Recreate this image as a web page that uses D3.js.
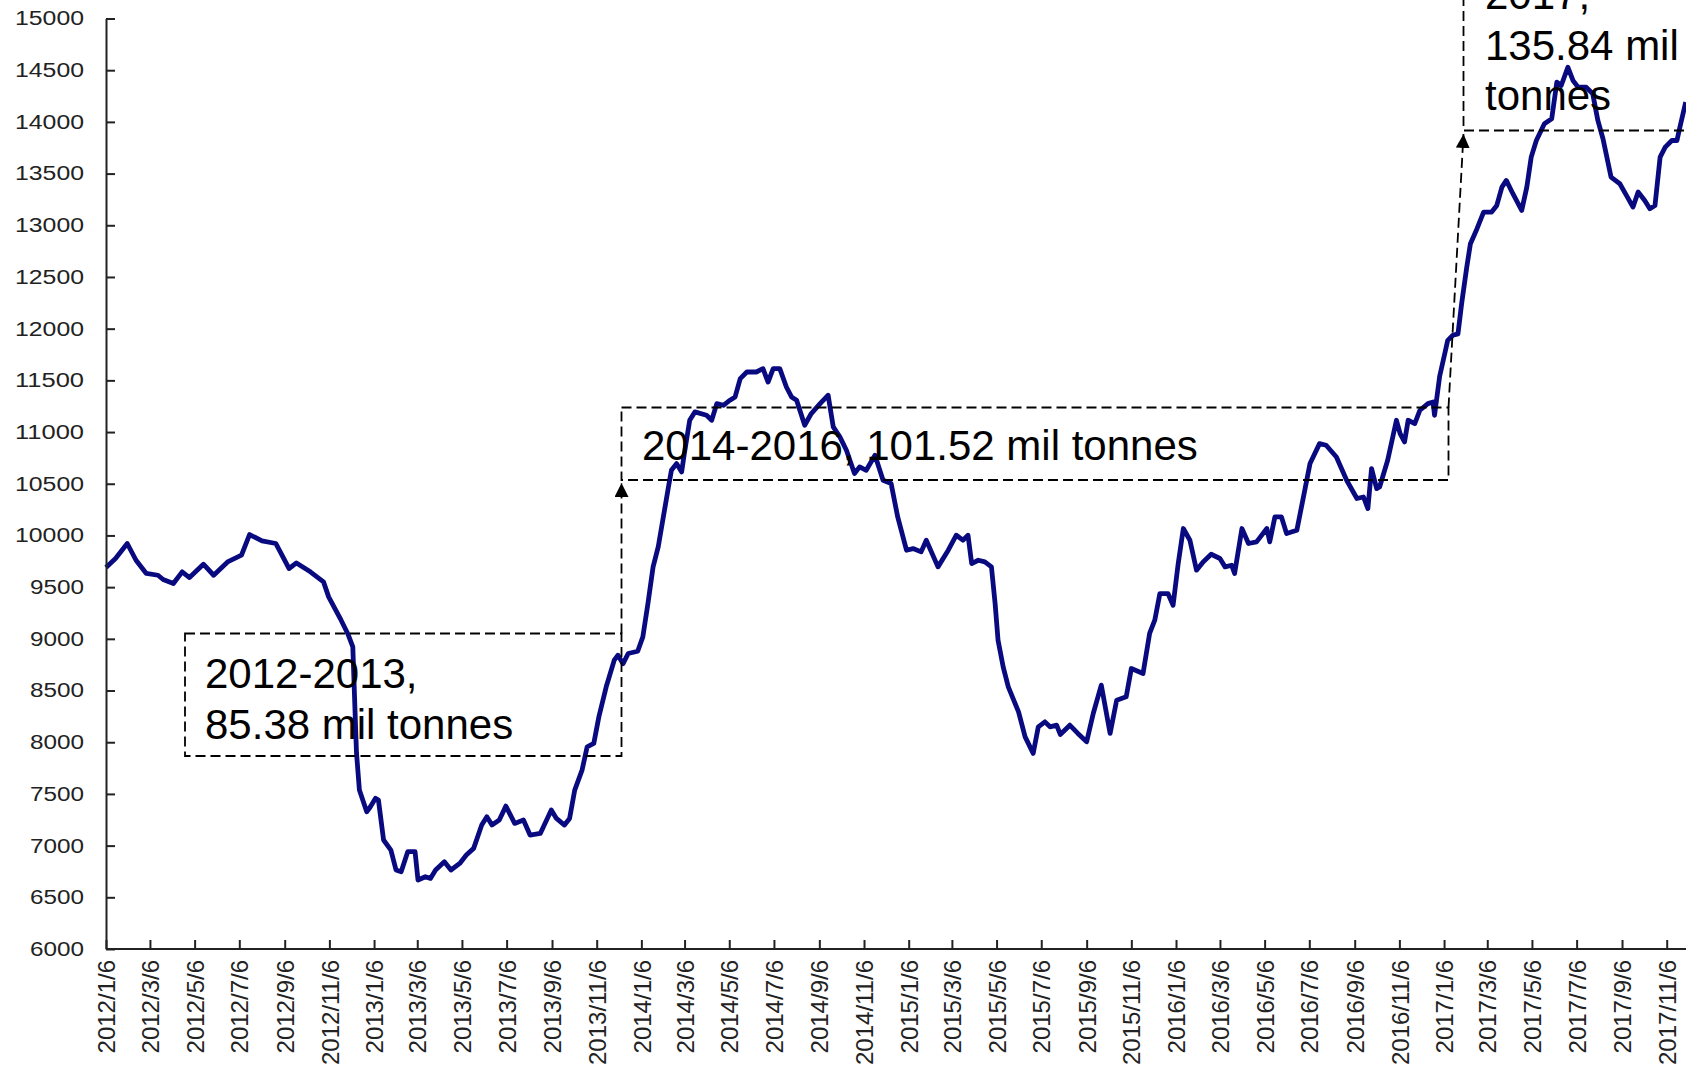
<!DOCTYPE html>
<html><head><meta charset="utf-8">
<script src="https://cdn.jsdelivr.net/npm/d3@7"></script>
<style>body{margin:0;background:#fff;} svg{display:block;}</style>
</head><body><svg id="c" width="1686" height="1065"></svg>
<script>
const dates = [
"2012-01-06","2012-01-19","2012-02-04","2012-02-16","2012-03-01","2012-03-17","2012-03-24","2012-04-07","2012-04-19","2012-04-29",
"2012-05-18","2012-06-01","2012-06-20","2012-07-09","2012-07-20","2012-08-06","2012-08-25","2012-09-12","2012-09-22","2012-10-11",
"2012-10-29","2012-11-05","2012-11-22","2012-12-01","2012-12-08","2012-12-13","2012-12-17","2012-12-27","2013-01-01","2013-01-08",
"2013-01-12","2013-01-19","2013-01-29","2013-02-05","2013-02-12","2013-02-21","2013-03-03","2013-03-07","2013-03-17","2013-03-24",
"2013-03-31","2013-04-12","2013-04-21","2013-05-03","2013-05-12","2013-05-22","2013-06-02","2013-06-09","2013-06-16","2013-06-26",
"2013-07-05","2013-07-17","2013-07-29","2013-08-07","2013-08-21","2013-09-05","2013-09-12","2013-09-23","2013-09-30","2013-10-07",
"2013-10-17","2013-10-24","2013-11-02","2013-11-09","2013-11-19","2013-11-30","2013-12-05","2013-12-12","2013-12-19","2014-01-01",
"2014-01-08","2014-01-15","2014-01-22","2014-01-29","2014-02-05","2014-02-12","2014-02-16","2014-02-23","2014-03-02","2014-03-06",
"2014-03-13","2014-03-20","2014-04-05","2014-04-12","2014-04-19","2014-04-28","2014-05-07","2014-05-14","2014-05-21","2014-05-30",
"2014-06-12","2014-06-21","2014-06-28","2014-07-05","2014-07-14","2014-07-23","2014-07-30","2014-08-06","2014-08-17","2014-08-26",
"2014-09-07","2014-09-18","2014-09-25","2014-10-04","2014-10-13","2014-10-24","2014-10-31","2014-11-09","2014-11-21","2014-12-02",
"2014-12-13","2014-12-22","2015-01-03","2015-01-12","2015-01-23","2015-01-30","2015-02-15","2015-03-01","2015-03-12","2015-03-21",
"2015-03-28","2015-04-02","2015-04-11","2015-04-20","2015-04-29","2015-05-04","2015-05-08","2015-05-15","2015-05-22","2015-06-05",
"2015-06-14","2015-06-25","2015-07-02","2015-07-11","2015-07-18","2015-07-27","2015-08-01","2015-08-14","2015-08-25","2015-09-06",
"2015-09-15","2015-09-26","2015-10-08","2015-10-17","2015-10-30","2015-11-06","2015-11-22","2015-12-01","2015-12-08","2015-12-15",
"2015-12-26","2016-01-02","2016-01-09","2016-01-16","2016-01-25","2016-02-03","2016-02-12","2016-02-23","2016-03-06","2016-03-13",
"2016-03-22","2016-03-26","2016-04-05","2016-04-14","2016-04-25","2016-05-09","2016-05-13","2016-05-20","2016-05-29","2016-06-05",
"2016-06-19","2016-06-28","2016-07-07","2016-07-20","2016-07-29","2016-08-12","2016-08-26","2016-09-09","2016-09-18","2016-09-24",
"2016-09-29","2016-10-06","2016-10-10","2016-10-21","2016-11-02","2016-11-07","2016-11-13","2016-11-18","2016-11-27","2016-12-04",
"2016-12-15","2016-12-22","2016-12-24","2016-12-31","2017-01-07","2017-01-11","2017-01-18","2017-01-25","2017-01-30","2017-02-06",
"2017-02-11","2017-02-20","2017-03-01","2017-03-12","2017-03-19","2017-03-26","2017-04-01","2017-04-10","2017-04-22","2017-04-29",
"2017-05-05","2017-05-12","2017-05-23","2017-06-02","2017-06-09","2017-06-15","2017-06-24","2017-07-01","2017-07-08","2017-07-19",
"2017-07-28","2017-08-04","2017-08-11","2017-08-22","2017-09-03","2017-09-12","2017-09-21","2017-09-28","2017-10-07","2017-10-14",
"2017-10-21","2017-10-28","2017-11-04","2017-11-13","2017-11-20","2017-11-24","2017-12-02"
];
const values = [
9690,9777,9922,9760,9632,9615,9574,9535,9648,9593,
9722,9615,9744,9809,10009,9947,9922,9680,9734,9648,
9551,9406,9180,9052,8922,7900,7537,7327,7376,7457,
7440,7054,6957,6764,6747,6941,6941,6667,6699,6683,
6764,6844,6764,6828,6909,6973,7199,7279,7199,7247,
7382,7215,7247,7102,7118,7344,7263,7199,7263,7537,
7730,7956,7988,8246,8536,8794,8842,8760,8858,8880,
9019,9342,9696,9889,10179,10469,10630,10695,10614,10807,
11114,11195,11162,11114,11275,11259,11308,11340,11517,11581,
11581,11613,11484,11613,11613,11436,11340,11308,11066,11179,
11275,11356,11050,10953,10824,10599,10663,10630,10775,10534,
10502,10179,9857,9873,9841,9954,9696,9857,10002,9954,
10002,9728,9760,9744,9696,9342,8987,8729,8536,8294,
8052,7892,8149,8197,8149,8165,8075,8165,8085,8004,
8278,8552,8085,8407,8439,8713,8665,9052,9180,9438,
9438,9325,9728,10067,9954,9664,9744,9818,9777,9696,
9712,9632,10067,9922,9938,10067,9938,10179,10179,10018,
10050,10372,10695,10888,10872,10759,10534,10357,10372,10260,
10647,10453,10469,10727,11114,10985,10904,11114,11082,11211,
11275,11291,11162,11540,11760,11887,11936,11950,12242,12596,
12822,12967,13128,13128,13192,13369,13434,13305,13144,13369,
13659,13820,13982,14030,14385,14352,14529,14401,14336,14336,
14272,14014,13837,13466,13402,13289,13176,13321,13240,13160,
13192,13659,13756,13820,13820,13949,14191
];
const tickLabels = [
"2012/1/6","2012/3/6","2012/5/6","2012/7/6","2012/9/6","2012/11/6",
"2013/1/6","2013/3/6","2013/5/6","2013/7/6","2013/9/6","2013/11/6",
"2014/1/6","2014/3/6","2014/5/6","2014/7/6","2014/9/6","2014/11/6",
"2015/1/6","2015/3/6","2015/5/6","2015/7/6","2015/9/6","2015/11/6",
"2016/1/6","2016/3/6","2016/5/6","2016/7/6","2016/9/6","2016/11/6",
"2017/1/6","2017/3/6","2017/5/6","2017/7/6","2017/9/6","2017/11/6"
];
const yTickValues = [6000,6500,7000,7500,8000,8500,9000,9500,10000,10500,11000,11500,12000,12500,13000,13500,14000,14500,15000];
const noteLines1 = ["2012-2013,","85.38 mil tonnes"];
const noteLines2 = ["2014-2016, 101.52 mil tonnes"];
const noteLines3 = ["2017,","135.84 mil","tonnes"];

const parseD = d3.utcParse("%Y-%m-%d");
const parseT = d3.utcParse("%Y/%m/%d");
const data = dates.map((d,i)=>({date:parseD(d), value:values[i]}));

const svg = d3.select("#c");
const x = d3.scaleUtc().domain([parseT("2012/1/6"), parseT("2017/11/6")]).range([106, 1666.7]);
const y = d3.scaleLinear().domain([6000,15000]).range([949, 18.5]);

// series line
svg.append("path").datum(data)
  .attr("fill","none").attr("stroke","#0a0a80").attr("stroke-width",4.8)
  .attr("stroke-linejoin","round")
  .attr("d", d3.line().x(d=>x(d.date)).y(d=>y(d.value)));

// axes
const yAxis = svg.append("g").attr("transform","translate(106,0)")
  .call(d3.axisLeft(y).tickValues(yTickValues).tickFormat(d3.format("d")).tickSizeInner(-9).tickSizeOuter(0).tickPadding(22));
yAxis.select(".domain").attr("stroke","#222").attr("stroke-width",2);
yAxis.selectAll(".tick line").attr("stroke","#222").attr("stroke-width",2);
yAxis.selectAll(".tick text").attr("font-family","Liberation Sans, Arial, sans-serif")
  .attr("font-size",20).attr("fill","#222")
  .attr("textLength", d=>String(d).length===5?69:54).attr("lengthAdjust","spacingAndGlyphs");

const xAxis = svg.append("g").attr("transform","translate(0,949)")
  .call(d3.axisBottom(x).tickValues(tickLabels.map(parseT)).tickFormat((d,i)=>tickLabels[i]).tickSizeInner(-9).tickSizeOuter(0));
xAxis.select(".domain").attr("d","M106,0H1686").attr("stroke","#222").attr("stroke-width",2);
xAxis.selectAll(".tick line").attr("stroke","#222").attr("stroke-width",2);
xAxis.selectAll(".tick text")
  .attr("font-family","Liberation Sans, Arial, sans-serif").attr("font-size",24).attr("fill","#222")
  .attr("transform","rotate(-90)").attr("x",-11).attr("y",0).attr("dy","0.36em")
  .attr("text-anchor","end");

// annotations
const defs = svg.append("defs");
defs.append("marker").attr("id","arr").attr("viewBox","0 0 10 10").attr("refX",10).attr("refY",5)
  .attr("markerWidth",14).attr("markerHeight",14).attr("markerUnits","userSpaceOnUse").attr("orient","auto")
  .append("path").attr("d","M0,0L10,5L0,10Z").attr("fill","#000");

const ann = svg.append("g").attr("fill","none").attr("stroke","#000").attr("stroke-width",1.8).attr("stroke-dasharray","10,5");
ann.append("rect").attr("x",185).attr("y",633.5).attr("width",436.5).attr("height",122.5);
ann.append("rect").attr("x",621.5).attr("y",407.5).attr("width",827).attr("height",72.5);
ann.append("rect").attr("x",1463.5).attr("y",-60).attr("width",300).attr("height",190.5);
ann.append("line").attr("x1",621.5).attr("y1",633.5).attr("x2",621.5).attr("y2",483).attr("marker-end","url(#arr)");
ann.append("line").attr("x1",1448.5).attr("y1",407.5).attr("x2",1463.5).attr("y2",134).attr("marker-end","url(#arr)");

const tg = svg.append("g").attr("font-family","Liberation Sans, Arial, sans-serif").attr("font-size",42).attr("fill","#000");
noteLines1.forEach((t,i)=>tg.append("text").attr("x",205).attr("y",688+i*51).text(t));
noteLines2.forEach((t,i)=>tg.append("text").attr("x",642).attr("y",460+i*51).text(t));
noteLines3.forEach((t,i)=>tg.append("text").attr("x",1485).attr("y",9+i*50.5).text(t));
</script></body></html>
